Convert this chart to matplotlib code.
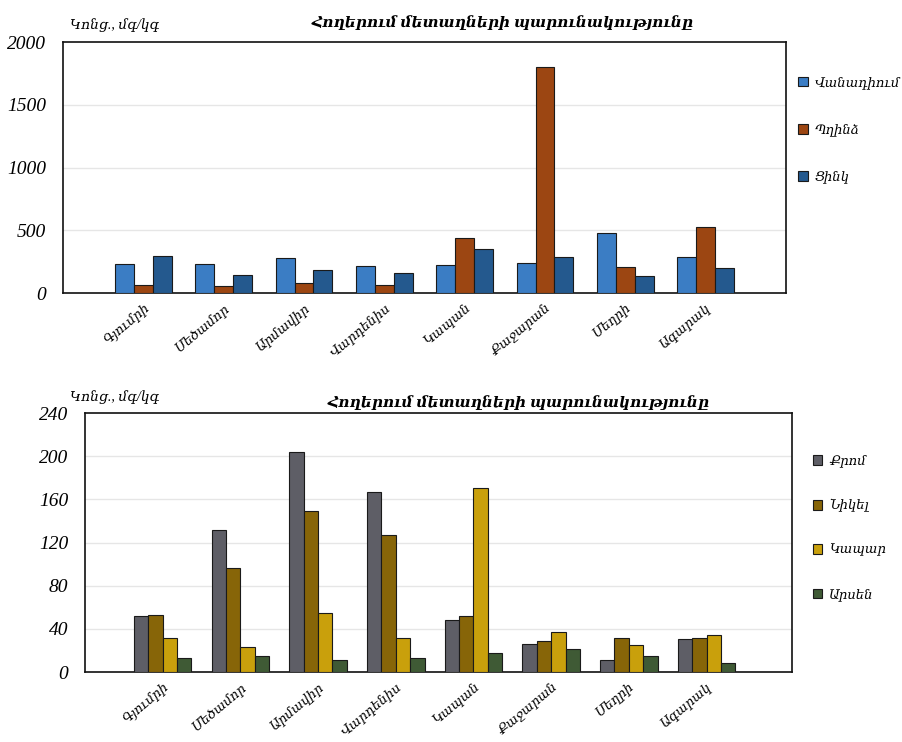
import numpy as np
import matplotlib.pyplot as plt

# Times-like serif first; Armenian glyphs come from DejaVu Serif
plt.rcParams['font.family'] = ['Liberation Serif', 'DejaVu Serif']

cities = ["Գյումրի", "Մեծամոր", "Արմավիր", "Վարդենիս",
          "Կապան", "Քաջարան", "Մեղրի", "Ագարակ"]

# Metal concentrations, mg/kg
vanadium = [231, 231, 276, 218, 225, 239, 480, 284]
copper = [64, 56, 77, 61, 441, 1803, 210, 526]
zinc = [295, 143, 183, 157, 353, 284, 138, 202]

chromium = [51.6, 131.6, 203.6, 166.8, 48.5, 26, 10.8, 30.3]
nickel = [52.8, 96.7, 149.5, 127.3, 51.6, 29, 31.5, 31.5]
lead = [31.5, 22.9, 55, 31.5, 171, 37.4, 24.7, 34.3]
arsenic = [13, 14.5, 10.8, 13, 17.3, 21.6, 14.5, 8.6]

title = "Հողերում մետաղների պարունակությունը"
unit = "Կոնց., մգ/կգ"

top_series = [("Վանադիում", vanadium, "#3b7dc4"),
              ("Պղինձ", copper, "#9c4612"),
              ("Ցինկ", zinc, "#24598e")]
bottom_series = [("Քրոմ", chromium, "#5e5e66"),
                 ("Նիկել", nickel, "#876508"),
                 ("Կապար", lead, "#c9a00c"),
                 ("Արսեն", arsenic, "#3f5a35")]

fig = plt.figure(figsize=(9.03, 7.42), dpi=100)
ax1 = fig.add_axes([0.0698, 0.605, 0.8006, 0.338])
ax2 = fig.add_axes([0.0941, 0.0943, 0.783, 0.349])


def grouped_bars(ax, series, width, yticks, ylim, xlim):
    x = np.arange(len(cities))
    n = len(series)
    for i, (name, vals, color) in enumerate(series):
        off = (i - (n - 1) / 2) * width
        ax.bar(x + off, vals, width, color=color, edgecolor="#1a1a1a",
               linewidth=0.8, label=name, zorder=3)
    ax.set_xlim(*xlim)
    ax.set_ylim(*ylim)
    ax.set_yticks(yticks)
    ax.set_yticklabels([str(t) for t in yticks])
    for lbl in ax.get_yticklabels():
        lbl.set_fontsize(14)
        lbl.set_fontstyle("italic")
    ax.set_xticks(x)
    ax.set_xticklabels(cities, rotation=40, ha="right", rotation_mode="anchor")
    for lbl in ax.get_xticklabels():
        lbl.set_fontsize(9.5)
        lbl.set_fontstyle("italic")
    ax.tick_params(axis="both", length=0)
    ax.tick_params(axis="y", pad=12)
    ax.tick_params(axis="x", pad=6)
    for t in yticks[1:-1]:
        ax.axhline(t, color="#e6e6e6", linewidth=1.0, zorder=1)
    for s in ax.spines.values():
        s.set_color("#111111")
        s.set_linewidth(1.2)


grouped_bars(ax1, top_series, 0.235, [0, 500, 1000, 1500, 2000], (0, 2000), (-1.0, 8.0))
grouped_bars(ax2, bottom_series, 0.185, [0, 40, 80, 120, 160, 200, 240], (0, 240), (-1.0, 8.1))

fig.text(0.557, 0.97, title, ha="center", va="center", fontsize=11,
         fontweight="bold", style="italic")
fig.text(0.574, 0.458, title, ha="center", va="center", fontsize=11,
         fontweight="bold", style="italic")
fig.text(0.077, 0.966, unit, ha="left", va="center", fontsize=10, style="italic")
fig.text(0.077, 0.465, unit, ha="left", va="center", fontsize=10, style="italic")

leg_kw = dict(frameon=False, handlelength=0.75, handleheight=0.75,
              handletextpad=0.5, borderaxespad=0, prop={"size": 9.5, "style": "italic"})
fig.legend(handles=[c.patches[0] for c in ax1.containers],
           labels=[s[0] for s in top_series], loc="upper left",
           bbox_to_anchor=(0.878, 0.904), labelspacing=2.6, **leg_kw)
fig.legend(handles=[c.patches[0] for c in ax2.containers],
           labels=[s[0] for s in bottom_series], loc="upper left",
           bbox_to_anchor=(0.894, 0.394), labelspacing=2.4, **leg_kw)

fig.savefig("out.png", dpi=100, facecolor="white")
